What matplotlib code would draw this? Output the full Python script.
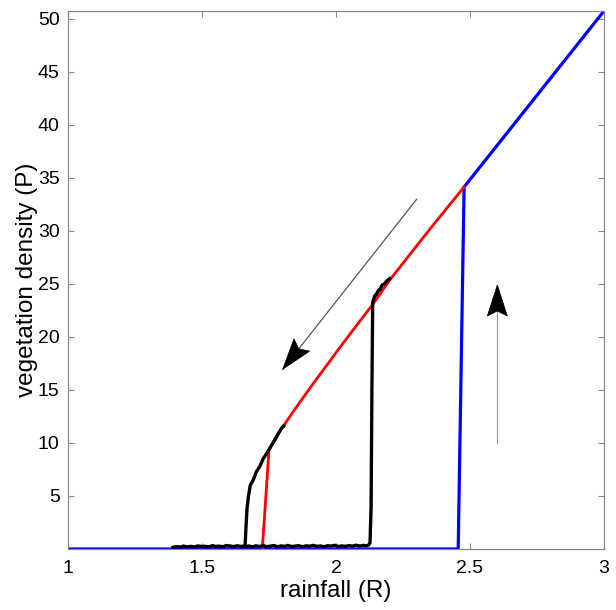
import numpy as np
import matplotlib
matplotlib.use('Agg')
import matplotlib.pyplot as plt
from matplotlib.patches import Polygon

plt.rcParams['font.family'] = ['Liberation Sans', 'DejaVu Sans']

# stable upper branch traced from the fold up to the top of the upswing jump
RED_R = [1.725, 1.750, 1.772, 1.799, 1.847, 1.914, 2.026, 2.138, 2.201, 2.351, 2.478]
RED_P = [0.0, 9.34, 10.38, 11.42, 13.2, 15.57, 19.4, 23.11, 25.38, 30.2, 34.15]

# continuation sweeping rainfall upward
BLUE_R = [1.0, 2.456, 2.478, 3.0]
BLUE_P = [0.0, 0.0, 34.15, 50.75]

# simulation run 1: bare soil until the jump near R = 2.13, then onto the vegetated branch
SIM1_R = [1.661, 1.675, 1.69, 1.70, 1.715, 1.73, 1.74, 1.755, 1.77, 1.78, 1.795,
          1.81, 1.82, 1.835, 1.85, 1.86, 1.875, 1.89, 1.90, 1.915, 1.93, 1.94,
          1.955, 1.97, 1.98, 1.995, 2.01, 2.02, 2.035, 2.05, 2.06, 2.075, 2.09,
          2.10, 2.115, 2.122,
          2.127, 2.131, 2.134, 2.137, 2.145, 2.150, 2.158, 2.165, 2.172, 2.180,
          2.190, 2.200]
SIM1_P = [0.22, 0.28, 0.20, 0.30, 0.24, 0.32, 0.22, 0.27, 0.33, 0.21, 0.29,
          0.25, 0.34, 0.23, 0.28, 0.31, 0.22, 0.30, 0.26, 0.34, 0.24, 0.29,
          0.22, 0.31, 0.27, 0.35, 0.23, 0.29, 0.25, 0.33, 0.26, 0.36, 0.28,
          0.34, 0.30, 0.38,
          0.6, 4.0, 15.0, 23.3, 23.9, 24.0, 24.4, 24.5, 24.9, 25.0,
          25.3, 25.5]

# simulation run 2: vegetated branch down to collapse near R = 1.66, then bare soil
SIM2_R = [1.805, 1.797, 1.785, 1.772, 1.760, 1.741, 1.728, 1.716, 1.703, 1.691,
          1.680, 1.673, 1.668, 1.665, 1.662, 1.661, 1.645, 1.63, 1.62, 1.605, 1.59,
          1.58, 1.565, 1.55, 1.54, 1.525, 1.51, 1.50, 1.485, 1.47, 1.46, 1.445,
          1.43, 1.42, 1.405, 1.392]
SIM2_P = [11.6, 11.4, 10.9, 10.3, 9.8, 9.0, 8.5, 7.8, 7.3, 6.5,
          6.0, 4.9, 3.8, 2.5, 1.0, 0.30, 0.24, 0.31, 0.22, 0.28, 0.33,
          0.21, 0.27, 0.24, 0.32, 0.20, 0.26, 0.23, 0.29, 0.19, 0.25, 0.21,
          0.27, 0.18, 0.22, 0.16]

X_TICKS = [1, 1.5, 2, 2.5, 3]
X_TICK_LABELS = ['1', '1.5', '2', '2.5', '3']
Y_TICKS = [5, 10, 15, 20, 25, 30, 35, 40, 45, 50]

# sweep direction arrows (tail, tip) in data units
DOWN_ARROW = ((2.301, 32.99), (1.801, 16.95))
UP_ARROW = ((2.602, 10.0), (2.602, 24.9))

fig = plt.figure(figsize=(6.16, 6.10), dpi=100)
ax = fig.add_axes([0.1104, 0.1, 0.8701, 0.882])

ax.plot(BLUE_R, BLUE_P, color='#0000ff', lw=2.3, solid_joinstyle='miter', zorder=2)
ax.plot(RED_R, RED_P, color='#ff0000', lw=2.0, zorder=3)
ax.plot(SIM1_R, SIM1_P, color='black', lw=2.4, zorder=4)
ax.plot(SIM2_R, SIM2_P, color='black', lw=2.4, zorder=4)

ax.set_xlim(1, 3)
ax.set_ylim(0, 50.75)
ax.set_xticks(X_TICKS, X_TICK_LABELS)
ax.set_yticks(Y_TICKS)

ax.tick_params(direction='in', length=4, width=0.8, color='#888888',
               top=True, right=True, labelsize=14)
ax.tick_params(axis='x', pad=8)
ax.tick_params(axis='y', pad=6)
for spine in ax.spines.values():
    spine.set_color('#888888')
    spine.set_linewidth(0.9)

ax.set_xlabel('rainfall (R)', fontsize=17.5, labelpad=2)
ax.set_ylabel('vegetation density (P)', fontsize=17.5, labelpad=0)


def draw_arrow(ax, tail, tip, shaft_color, head_len=31, half_w=10, notch=26):
    # thin shaft plus a filled notched head, head sized in pixels
    ax.plot([tail[0], tip[0]], [tail[1], tip[1]], color=shaft_color, lw=0.9, zorder=5)
    tx, ty = ax.transData.transform(tail)
    px, py = ax.transData.transform(tip)
    d = np.array([tx - px, ty - py])
    d /= np.hypot(*d)
    n = np.array([-d[1], d[0]])
    p = np.array([px, py])
    pts = [p,
           p + d * head_len + n * half_w,
           p + d * notch,
           p + d * head_len - n * half_w]
    pts = ax.transData.inverted().transform(np.array(pts))
    ax.add_patch(Polygon(pts, closed=True, facecolor='black', edgecolor='black',
                         lw=0.5, zorder=6))


draw_arrow(ax, *DOWN_ARROW, shaft_color='#555555')
draw_arrow(ax, *UP_ARROW, shaft_color='#999999')

fig.savefig('out.png', dpi=100)
